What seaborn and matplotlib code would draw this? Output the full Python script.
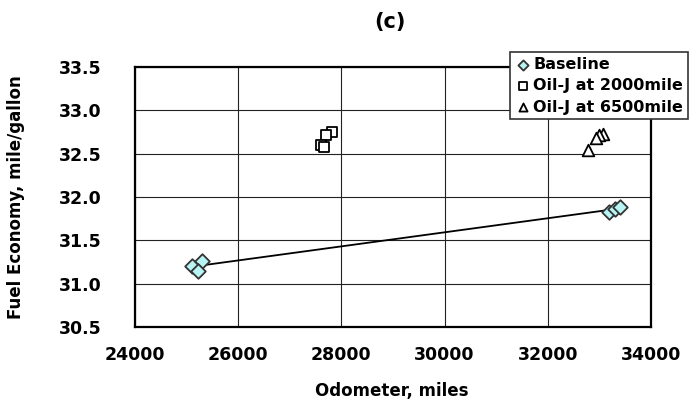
import numpy as np
import pandas as pd
import matplotlib
matplotlib.use("Agg")
import matplotlib.pyplot as plt
import seaborn as sns

# values
baseline_miles = [25100, 25290, 25215, 33190, 33300, 33400]
baseline_mpg = [31.20, 31.26, 31.15, 31.83, 31.86, 31.89]

oil2000_miles = [27825, 27705, 27600, 27670]
oil2000_mpg = [32.75, 32.71, 32.60, 32.58]

oil6500_miles = [33075, 33000, 32935, 32785]
oil6500_mpg = [32.73, 32.71, 32.68, 32.54]

series_names = ["Baseline", "Oil-J at 2000mile", "Oil-J at 6500mile"]
x_ticks = [24000, 26000, 28000, 30000, 32000, 34000]
y_ticks = [30.5, 31.0, 31.5, 32.0, 32.5, 33.0, 33.5]

df = pd.concat([
    pd.DataFrame({"miles": baseline_miles, "mpg": baseline_mpg, "series": series_names[0]}),
    pd.DataFrame({"miles": oil2000_miles, "mpg": oil2000_mpg, "series": series_names[1]}),
    pd.DataFrame({"miles": oil6500_miles, "mpg": oil6500_mpg, "series": series_names[2]}),
], ignore_index=True)

sns.set_theme(style="white")
plt.rcParams["font.family"] = ["DejaVu Sans"]
plt.rcParams["font.weight"] = "bold"
plt.rcParams["text.color"] = "black"
plt.rcParams["axes.labelcolor"] = "black"
plt.rcParams["xtick.color"] = "black"
plt.rcParams["ytick.color"] = "black"

fig = plt.figure(figsize=(6.92, 4.05), dpi=100)
ax = fig.add_axes([135 / 692, 1 - 327 / 405, 516 / 692, 260 / 405])

# trend line between the two baseline groups (group means)
base = df[df["series"] == series_names[0]].copy()
base["group"] = np.where(base["miles"] < 29000, "early", "late")
trend = base.groupby("group", as_index=False)[["miles", "mpg"]].mean()
sns.lineplot(data=trend, x="miles", y="mpg", color="black", linewidth=1.3,
             ax=ax, legend=False, zorder=2)

styles = {
    series_names[0]: dict(marker="D", facecolor="#b8f4f4", edgecolor="#333333", s=55),
    series_names[1]: dict(marker="s", facecolor="white", edgecolor="black", s=60),
    series_names[2]: dict(marker="^", facecolor="white", edgecolor="black", s=70),
}
for name in series_names:
    st = styles[name]
    sub = df[df["series"] == name]
    sns.scatterplot(data=sub, x="miles", y="mpg", marker=st["marker"], s=st["s"],
                    color=st["facecolor"], edgecolor=st["edgecolor"], linewidth=1.3,
                    label=name, ax=ax, zorder=3)

ax.set_xlim(24000, 34000)
ax.set_ylim(30.5, 33.5)
ax.set_xticks(x_ticks)
ax.set_yticks(y_ticks)
ax.set_xticklabels([str(t) for t in x_ticks])
ax.set_yticklabels([f"{t:.1f}" for t in y_ticks])
ax.tick_params(axis="both", length=0, labelsize=12.5, colors="black")
ax.tick_params(axis="x", pad=14)
ax.tick_params(axis="y", pad=24)
for lab in ax.get_xticklabels() + ax.get_yticklabels():
    lab.set_fontweight("bold")

ax.grid(True, color="#222222", linewidth=0.8)
for sp in ax.spines.values():
    sp.set_visible(True)
    sp.set_color("black")
    sp.set_linewidth(1.6)

ax.set_xlabel("Odometer, miles", fontsize=12, fontweight="bold", color="black")
ax.set_ylabel("Fuel Economy, mile/gallon", fontsize=12, fontweight="bold", color="black")
ax.xaxis.set_label_coords(0.497, -0.212)
ax.yaxis.set_label_coords(-0.213, 0.5)

fig.text(390 / 692, 1 - 22 / 405, "(c)", ha="center", va="center",
         fontsize=15, fontweight="bold", color="black")

leg = ax.legend(loc="upper right", bbox_to_anchor=(688 / 692, 1 - 52 / 405),
                bbox_transform=fig.transFigure, frameon=True, fancybox=False,
                edgecolor="#333333", framealpha=1, fontsize=11.5,
                handletextpad=0.15, handlelength=1.0, borderpad=0.3,
                labelspacing=0.4, borderaxespad=0, markerscale=0.7)
leg.get_frame().set_linewidth(1.2)
for t in leg.get_texts():
    t.set_fontweight("bold")
    t.set_color("black")

fig.savefig("out.png", dpi=100)
